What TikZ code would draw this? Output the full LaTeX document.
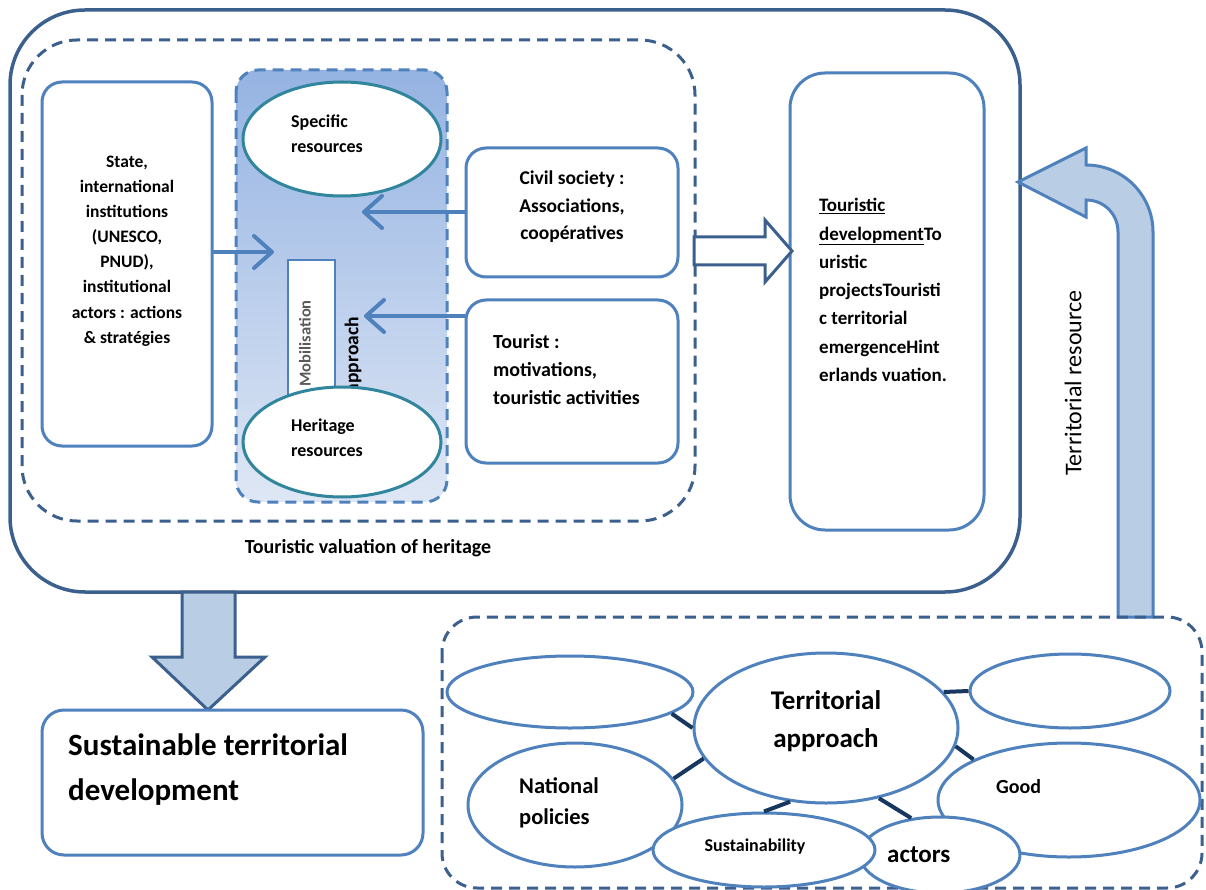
\documentclass[tikz,border=0pt]{standalone}
\usepackage{fontspec}
\setmainfont{Carlito}
\usetikzlibrary{shapes.geometric,arrows.meta,positioning}
\definecolor{darkline}{RGB}{60,96,142}
\definecolor{midblue}{RGB}{79,129,189}
\definecolor{tealline}{RGB}{49,133,156}
\definecolor{lightfill}{RGB}{185,205,229}
\definecolor{gradtop}{RGB}{149,179,226}
\definecolor{gradbot}{RGB}{222,231,245}
\definecolor{navy}{RGB}{23,55,94}
\tikzset{
  box/.style={draw=midblue, line width=3pt, fill=white, rounded corners=20pt, inner sep=0pt},
  oval/.style={ellipse, draw=midblue, line width=3pt, fill=white, inner sep=0pt},
  resoval/.style={oval, draw=tealline},
  txt/.style={font=\bfseries\fontsize{18}{25}\selectfont, inner sep=0pt},
  flow/.style={draw=midblue, line width=4pt, line cap=round, -{Straight Barb[length=18pt,width=32pt,round]}},
  link/.style={draw=navy, line width=4pt},
  dashline/.style={draw=darkline, line width=3pt, dash pattern=on 11pt off 7pt},
}
\begin{document}
\begin{tikzpicture}[x=1pt,y=-1pt]
    \useasboundingbox (0,0) rectangle (1206,890);
    \fill[white] (0,0) rectangle (1206,890);

    % valuation frame
    \draw[darkline, line width=3.5pt, rounded corners=75pt] (10,10) rectangle (1020,592);
    \draw[dashline, rounded corners=55pt] (22,40) rectangle (695,521);

    % mobilisation column
    \path[top color=gradtop, bottom color=gradbot, draw=midblue, line width=3pt,
          dash pattern=on 11pt off 7pt, rounded corners=22pt] (236,70) rectangle (447,502);
    \draw[midblue, line width=2pt, fill=white] (288,260) rectangle (335,420);
    \node[txt, font=\bfseries\fontsize{16.5}{16.5}\selectfont, text=black!65, rotate=90, anchor=east] (mobtxt) at (305,300) {Mobilisation};
    \node[txt, font=\bfseries\fontsize{19.5}{19.5}\selectfont, rotate=90, anchor=east] (apptxt) at (353,317) {approach};
    \node[resoval, minimum width=198pt, minimum height=114pt] (spec) at (342,139) {};
    \node[resoval, minimum width=198pt, minimum height=110pt] (herit) at (342,442) {};
    \node[txt, align=left, anchor=west] (spectxt) at (291,134) {Specific\\resources};
    \node[txt, align=left, anchor=west] (herittxt) at (291,438) {Heritage\\resources};

    % actors boxes
    \node[box, minimum width=170pt, minimum height=364pt] (state) at (127,264) {};
    \node[txt, font=\bfseries\fontsize{17.5}{25.1}\selectfont, align=center] (statetxt) at (127,251) {State,\\international\\institutions\\(UNESCO,\\PNUD),\\institutional\\actors : actions\\\& stratégies};
    \node[box, minimum width=212pt, minimum height=129pt] (civil) at (572,212.5) {};
    \node[txt, font=\bfseries\fontsize{19.5}{27.5}\selectfont, align=center] (civiltxt) at (572,207) {Civil society :\\Associations,\\coopératives};
    \node[box, minimum width=212pt, minimum height=163pt] (tour) at (572,381.5) {};
    \node[txt, font=\bfseries\fontsize{20}{28}\selectfont, align=left, anchor=west] (tourtxt) at (493,370) {Tourist :\\motivations,\\touristic activities};
    \node[box, minimum width=194pt, minimum height=457pt, rounded corners=35pt] (td) at (887,301.5) {};
    \node[txt, font=\bfseries\fontsize{19}{28.3}\selectfont, align=left, anchor=west] (tdtxt) at (819,290)
        {\underline{Touristic}\\\underline{development}To\\uristic\\projectsTouristi\\c territorial\\emergenceHint\\erlands vuation.};
    \node[txt, font=\bfseries\fontsize{20}{20}\selectfont] (valtxt) at (368,548) {Touristic valuation of heritage};

    % arrows into the column
    \coordinate (mobin) at (274,252);
    \coordinate (civin) at (362,212);
    \coordinate (tourin) at (364,316);
    \draw[flow] (state.east |- mobin) -- (mobin);
    \draw[flow] (civil.west |- civin) -- (civin);
    \draw[flow] (tour.west |- tourin) -- (tourin);

    % hollow arrow to development
    \draw[darkline, line width=3pt, fill=white] (694,237) -- (765,237) -- (765,220) -- (792,251)
        -- (765,282) -- (765,265) -- (694,265) -- cycle;

    % down arrow
    \draw[darkline, line width=3pt, fill=lightfill] (182,592) -- (182,657) -- (152,657) -- (208,710)
        -- (265,657) -- (235,657) -- (235,592) -- cycle;
    \node[box, minimum width=381pt, minimum height=145pt, rounded corners=22pt] (sust) at (232.5,782.5) {};
    \node[txt, font=\bfseries\fontsize{31}{45}\selectfont, align=left, anchor=west] (susttxt) at (68,770) {Sustainable territorial\\development};

    % territorial resource arrow
    \draw[midblue, line width=3pt, fill=lightfill] (1118,617) -- (1118,232)
        .. controls (1118,214) and (1104,200) .. (1086,200) -- (1086,217) -- (1018,182)
        -- (1086,148) -- (1086,165) .. controls (1123,165) and (1153,195) .. (1153,232)
        -- (1153,617) -- cycle;
    \node[inner sep=0pt, font=\fontsize{24}{24}\selectfont, rotate=90] (restxt) at (1073,383) {Territorial resource};

    % territorial approach cluster
    \draw[dashline, rounded corners=35pt] (442,617) rectangle (1202,888);
    \node[oval, minimum width=262pt, minimum height=114pt] (good) at (1069,800) {};
    \node[oval, minimum width=160pt, minimum height=76pt] (act) at (940,855) {};
    \node[oval, minimum width=214pt, minimum height=124pt] (natl) at (575,805) {};
    \node[oval, minimum width=222pt, minimum height=74pt] (sustn) at (764,850) {};
    \node[oval, minimum width=246pt, minimum height=72pt] (tl) at (570,692) {};
    \node[oval, minimum width=200pt, minimum height=74pt] (tr) at (1070,691) {};
    \node[oval, minimum width=264pt, minimum height=150pt] (ta) at (826,728) {};

    \node[txt, font=\bfseries\fontsize{27}{38}\selectfont, align=center] (tatxt) at (826,721) {Territorial\\approach};
    \node[txt, font=\bfseries\fontsize{22.5}{31}\selectfont, align=left, anchor=west] (natltxt) at (519,803) {National\\policies};
    \node[txt, font=\bfseries\fontsize{20}{20}\selectfont, anchor=west] (goodtxt) at (996,787) {Good};
    \node[txt, font=\bfseries\fontsize{18}{18}\selectfont] (sustntxt) at (755,847) {Sustainability};
    \node[txt, font=\bfseries\fontsize{25}{25}\selectfont, anchor=west] (acttxt) at (887,855) {actors};

    \draw[link] (tl.-12) -- (ta.180);
    \draw[link] (natl.15) -- (ta.194);
    \draw[link] (ta.17) -- (tr.180);
    \draw[link] (ta.-8) -- (good.157);
    \draw[link] (ta.244) -- (sustn.90);
    \draw[link] (ta.-53) -- (act.128);
\end{tikzpicture}
\end{document}
